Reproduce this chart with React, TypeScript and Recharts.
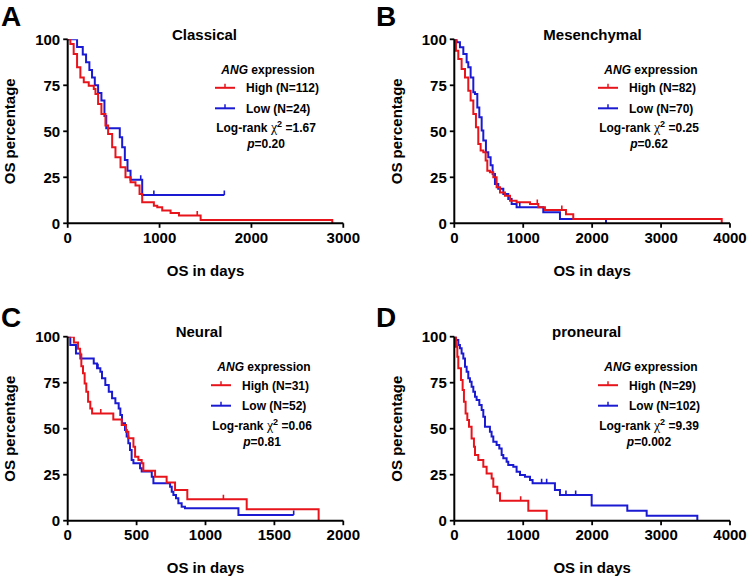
import React from 'react';
import { LineChart, Line, XAxis, YAxis } from 'recharts';

const FONT = '"Liberation Sans", Arial, Helvetica, sans-serif';
const RED = '#e8141c';
const BLUE = '#1a1ad2';

// Kaplan-Meier steps: time (days) -> survival (%)
// A: Classical
const classicalHighT = [0, 29, 65, 102, 138, 175, 229, 284, 302, 331, 367, 411, 440, 484, 520, 575, 629, 684, 738, 782, 811, 938, 975, 1029, 1120, 1211, 1447, 2880];
const classicalHighS = [100, 97.5, 92, 84.8, 79.3, 76.6, 74.8, 73, 70.3, 64.9, 59.4, 53.1, 48.6, 41.3, 35.9, 30.4, 25, 22.3, 20.5, 15.9, 11.4, 9.6, 8.7, 6.9, 5.6, 4.2, 1.8, 0];
const classicalHighCensor = [1410];
const classicalLowT = [0, 102, 164, 200, 236, 265, 295, 331, 367, 400, 420, 567, 593, 622, 651, 684, 811];
const classicalLowS = [100, 95.8, 91.7, 87.5, 83.3, 79.2, 75, 70.8, 66.7, 58.3, 51.7, 46.7, 41.3, 34.4, 28.6, 23.7, 15.4];
const classicalLowCensor = [795, 938, 1705];

// B: Mesenchymal
const mesHighT = [0, 24, 58, 106, 155, 203, 237, 276, 314, 348, 382, 421, 455, 479, 517, 566, 614, 663, 735, 808, 904, 1098, 1219, 1315, 1620, 1726, 3880];
const mesHighS = [100, 93.8, 89.3, 83.9, 79.3, 72.1, 66.7, 59.4, 52.2, 43.1, 39.5, 38.6, 34.1, 28.6, 27.7, 25, 19.6, 16.8, 15, 12.3, 11.4, 10.5, 8.7, 7.2, 4.9, 2.4, 0];
const mesHighCensor = [1204, 1560];
const mesLowT = [0, 34, 82, 131, 179, 203, 237, 276, 300, 334, 363, 397, 421, 459, 493, 527, 556, 590, 638, 711, 783, 832, 904, 1291, 1533, 2201];
const mesLowS = [100, 98.4, 95.7, 92, 87.5, 84.8, 79.3, 71.2, 70.3, 63, 57.6, 50.4, 45, 38.6, 35.9, 31.5, 26.8, 21.4, 18.8, 15.9, 13.2, 10.5, 8.7, 6, 2.4, 0];
const mesLowCensor = [950];

// C: Neural
const neuralHighT = [0, 45, 75, 90, 99, 111, 123, 135, 148, 164, 177, 331, 392, 423, 440, 477, 489, 513, 537, 549, 634, 718, 779, 868, 1299, 1821];
const neuralHighS = [100, 96.8, 93.5, 90.3, 83.9, 80.1, 74.6, 70.1, 64.7, 61, 58.3, 55, 52, 48.4, 44.8, 40.2, 34.8, 33, 31.2, 27.2, 23.9, 20.7, 16.7, 11.6, 6.2, 0];
const neuralHighCensor = [240, 1130];
const neuralLowT = [0, 19, 60, 92, 189, 213, 237, 249, 273, 298, 322, 346, 370, 382, 394, 416, 428, 440, 452, 464, 477, 525, 537, 610, 622, 743, 755, 767, 786, 803, 827, 851, 1239];
const neuralLowS = [100, 95.5, 90.9, 88.2, 85.5, 82.8, 81, 77.4, 73.7, 70.1, 66.5, 63.8, 61, 57.4, 52.9, 49.3, 45.7, 42.1, 38.4, 33, 31.2, 28.5, 26.7, 23.9, 20.3, 18.5, 15.8, 14, 12.2, 9.5, 7.6, 6.8, 3.1];
const neuralLowCensor = [220, 1640];

// D: proneural
const proHighT = [0, 24, 44, 58, 97, 121, 140, 164, 189, 213, 251, 285, 300, 348, 421, 469, 542, 566, 624, 663, 1074, 1340];
const proHighS = [100, 94.6, 89.1, 82.8, 76.4, 71, 64.7, 58.3, 54.7, 51.1, 44.7, 40.2, 35.7, 33, 29.3, 25.7, 23, 18.5, 14.9, 10.9, 5.4, 0];
const proHighCensor = [963];
const proLowT = [0, 24, 58, 82, 106, 131, 155, 179, 203, 227, 251, 276, 300, 324, 363, 397, 421, 445, 517, 541, 566, 614, 653, 687, 711, 759, 783, 856, 904, 953, 1025, 1098, 1136, 1460, 1533, 1993, 2510, 2791, 3526];
const proLowS = [100, 98.2, 95.5, 93.7, 90.9, 88.2, 83.7, 81, 77.4, 75.5, 72.8, 70.1, 67.4, 65.6, 62.9, 60.1, 56.5, 51.1, 48.4, 45.7, 42.9, 41.1, 39.3, 35.7, 33.9, 32.1, 30.3, 29.3, 26.6, 24.8, 23.9, 22.1, 20.3, 16.7, 14, 8.2, 5.4, 2.7, 0];
const proLowCensor = [1267, 1340, 1620, 1761];

const yTicks = [0, 25, 50, 75, 100];

type Pt = { t: number; s: number; c?: boolean };

// merge event steps with censor marks (censor sits on the current step level)
function buildCurve(times: number[], surv: number[], censor: number[]): Pt[] {
  const pts: Pt[] = times.map((t, i) => ({ t, s: surv[i] }));
  censor.forEach((ct) => {
    let s = surv[0];
    times.forEach((t, i) => {
      if (t <= ct) s = surv[i];
    });
    pts.push({ t: ct, s, c: true });
  });
  return pts.sort((a, b) => a.t - b.t);
}

const censorDot = (color: string) => (props: any) => {
  const { cx, cy, payload, index } = props;
  if (!payload || !payload.c) return <g key={`n${index}`} />;
  return <line key={`c${index}`} x1={cx} x2={cx} y1={cy - 4.5} y2={cy} stroke={color} strokeWidth={1.6} />;
};

const panels = [
  {
    letter: 'A', title: 'Classical', high: 'High (N=112)', low: 'Low (N=24)', chi: '1.67', p: '0.20',
    box: [0, 0], plot: [67.7, 39.3, 343.3, 223.3], xMax: 3000, xTicks: [0, 1000, 2000, 3000],
    titleX: 204.5, legendX: 215,
    hi: buildCurve(classicalHighT, classicalHighS, classicalHighCensor),
    lo: buildCurve(classicalLowT, classicalLowS, classicalLowCensor),
  },
  {
    letter: 'B', title: 'Mesenchymal', high: 'High (N=82)', low: 'Low (N=70)', chi: '0.25', p: '0.62',
    box: [375, 0], plot: [454.3, 39.3, 730, 223.3], xMax: 4000, xTicks: [0, 1000, 2000, 3000, 4000],
    titleX: 592.5, legendX: 598,
    hi: buildCurve(mesHighT, mesHighS, mesHighCensor),
    lo: buildCurve(mesLowT, mesLowS, mesLowCensor),
  },
  {
    letter: 'C', title: 'Neural', high: 'High (N=31)', low: 'Low (N=52)', chi: '0.06', p: '0.81',
    box: [0, 288], plot: [67.7, 336.7, 343.3, 520.7], xMax: 2000, xTicks: [0, 500, 1000, 1500, 2000],
    titleX: 199, legendX: 211,
    hi: buildCurve(neuralHighT, neuralHighS, neuralHighCensor),
    lo: buildCurve(neuralLowT, neuralLowS, neuralLowCensor),
  },
  {
    letter: 'D', title: 'proneural', high: 'High (N=29)', low: 'Low (N=102)', chi: '9.39', p: '0.002',
    box: [375, 288], plot: [454.3, 336.7, 730, 520.7], xMax: 4000, xTicks: [0, 1000, 2000, 3000, 4000],
    titleX: 586.7, legendX: 598,
    hi: buildCurve(proHighT, proHighS, proHighCensor),
    lo: buildCurve(proLowT, proLowS, proLowCensor),
  },
];

const BOX_W = 375;
const BOX_H = 289;
const XH = 30;

const tickStyle = { fill: '#000', fontSize: 15, fontWeight: 700, fontFamily: FONT };

function Panel({ p }: { p: (typeof panels)[number] }) {
  const [bx, by] = p.box;
  const [x0, y0, x1, y1] = p.plot;
  return (
    <div style={{ position: 'absolute', left: bx, top: by }}>
      <LineChart
        width={BOX_W}
        height={BOX_H}
        margin={{ top: y0 - by, right: bx + BOX_W - x1, bottom: by + BOX_H - y1 - XH, left: 0 }}
      >
        <XAxis
          type="number"
          dataKey="t"
          domain={[0, p.xMax]}
          ticks={p.xTicks}
          interval={0}
          height={XH}
          tickSize={4.5}
          tickMargin={4.5}
          axisLine={{ stroke: '#000', strokeWidth: 2 }}
          tickLine={{ stroke: '#000', strokeWidth: 1.8 }}
          tick={tickStyle}
          allowDataOverflow
        />
        <YAxis
          type="number"
          domain={[0, 100]}
          ticks={yTicks}
          interval={0}
          width={x0 - bx}
          tickSize={4.5}
          tickMargin={3}
          axisLine={{ stroke: '#000', strokeWidth: 2 }}
          tickLine={{ stroke: '#000', strokeWidth: 1.8 }}
          tick={tickStyle}
          allowDataOverflow
        />
        <Line
          data={p.lo}
          dataKey="s"
          type="stepAfter"
          stroke={BLUE}
          strokeWidth={2}
          dot={censorDot(BLUE)}
          activeDot={false}
          isAnimationActive={false}
        />
        <Line
          data={p.hi}
          dataKey="s"
          type="stepAfter"
          stroke={RED}
          strokeWidth={2}
          dot={censorDot(RED)}
          activeDot={false}
          isAnimationActive={false}
        />
      </LineChart>
    </div>
  );
}

function Labels() {
  return (
    <svg
      width={750}
      height={577}
      style={{ position: 'absolute', left: 0, top: 0, pointerEvents: 'none' }}
      fontFamily={FONT}
      fontWeight={700}
    >
      {panels.map((p) => {
        const [bx, by] = p.box;
        const [x0, y0, x1, y1] = p.plot;
        const lx = p.legendX;
        const cy = (y0 + y1) / 2;
        return (
          <g key={p.letter}>
            <text x={bx + 1} y={by ? by + 38.5 : 25.5} fontSize={28}>
              {p.letter}
            </text>
            <text x={p.titleX} y={y0 + 0.7} fontSize={15} textAnchor="middle">
              {p.title}
            </text>
            <text x={(x0 + x1) / 2} y={y1 + 52.7} fontSize={15} textAnchor="middle">
              OS in days
            </text>
            <text
              x={x0 - 52.5}
              y={cy}
              fontSize={15}
              textAnchor="middle"
              transform={`rotate(-90 ${x0 - 52.5} ${cy})`}
            >
              OS percentage
            </text>
            {/* legend */}
            <text x={lx + 53} y={y0 + 34.3} fontSize={12} textAnchor="middle">
              <tspan fontStyle="italic">ANG</tspan> expression
            </text>
            <line x1={lx} x2={lx + 20} y1={y0 + 48.5} y2={y0 + 48.5} stroke={RED} strokeWidth={2} />
            <line x1={lx + 10} x2={lx + 10} y1={y0 + 44.5} y2={y0 + 48.5} stroke={RED} strokeWidth={1.5} />
            <text x={lx + 31} y={y0 + 52.8} fontSize={12}>
              {p.high}
            </text>
            <line x1={lx} x2={lx + 20} y1={y0 + 69} y2={y0 + 69} stroke={BLUE} strokeWidth={2} />
            <line x1={lx + 10} x2={lx + 10} y1={y0 + 65} y2={y0 + 69} stroke={BLUE} strokeWidth={1.5} />
            <text x={lx + 31} y={y0 + 73.5} fontSize={12}>
              {p.low}
            </text>
            <text x={lx + 51} y={y0 + 93} fontSize={12} textAnchor="middle">
              Log-rank{' '}
              <tspan fontFamily='"Liberation Serif", serif' fontWeight={400} fontSize={14}>
                χ
              </tspan>
              <tspan dy={-5} fontSize={9}>
                2
              </tspan>
              <tspan dy={5}> ={p.chi}</tspan>
            </text>
            <text x={lx + 51} y={y0 + 109} fontSize={12} textAnchor="middle">
              <tspan fontStyle="italic">p</tspan>={p.p}
            </text>
          </g>
        );
      })}
    </svg>
  );
}

export default function App() {
  return (
    <div
      style={{
        position: 'absolute',
        left: 0,
        top: 0,
        width: 750,
        height: 577,
        background: '#fff',
        overflow: 'hidden',
      }}
    >
      {panels.map((p) => (
        <Panel key={p.letter} p={p} />
      ))}
      <Labels />
    </div>
  );
}
